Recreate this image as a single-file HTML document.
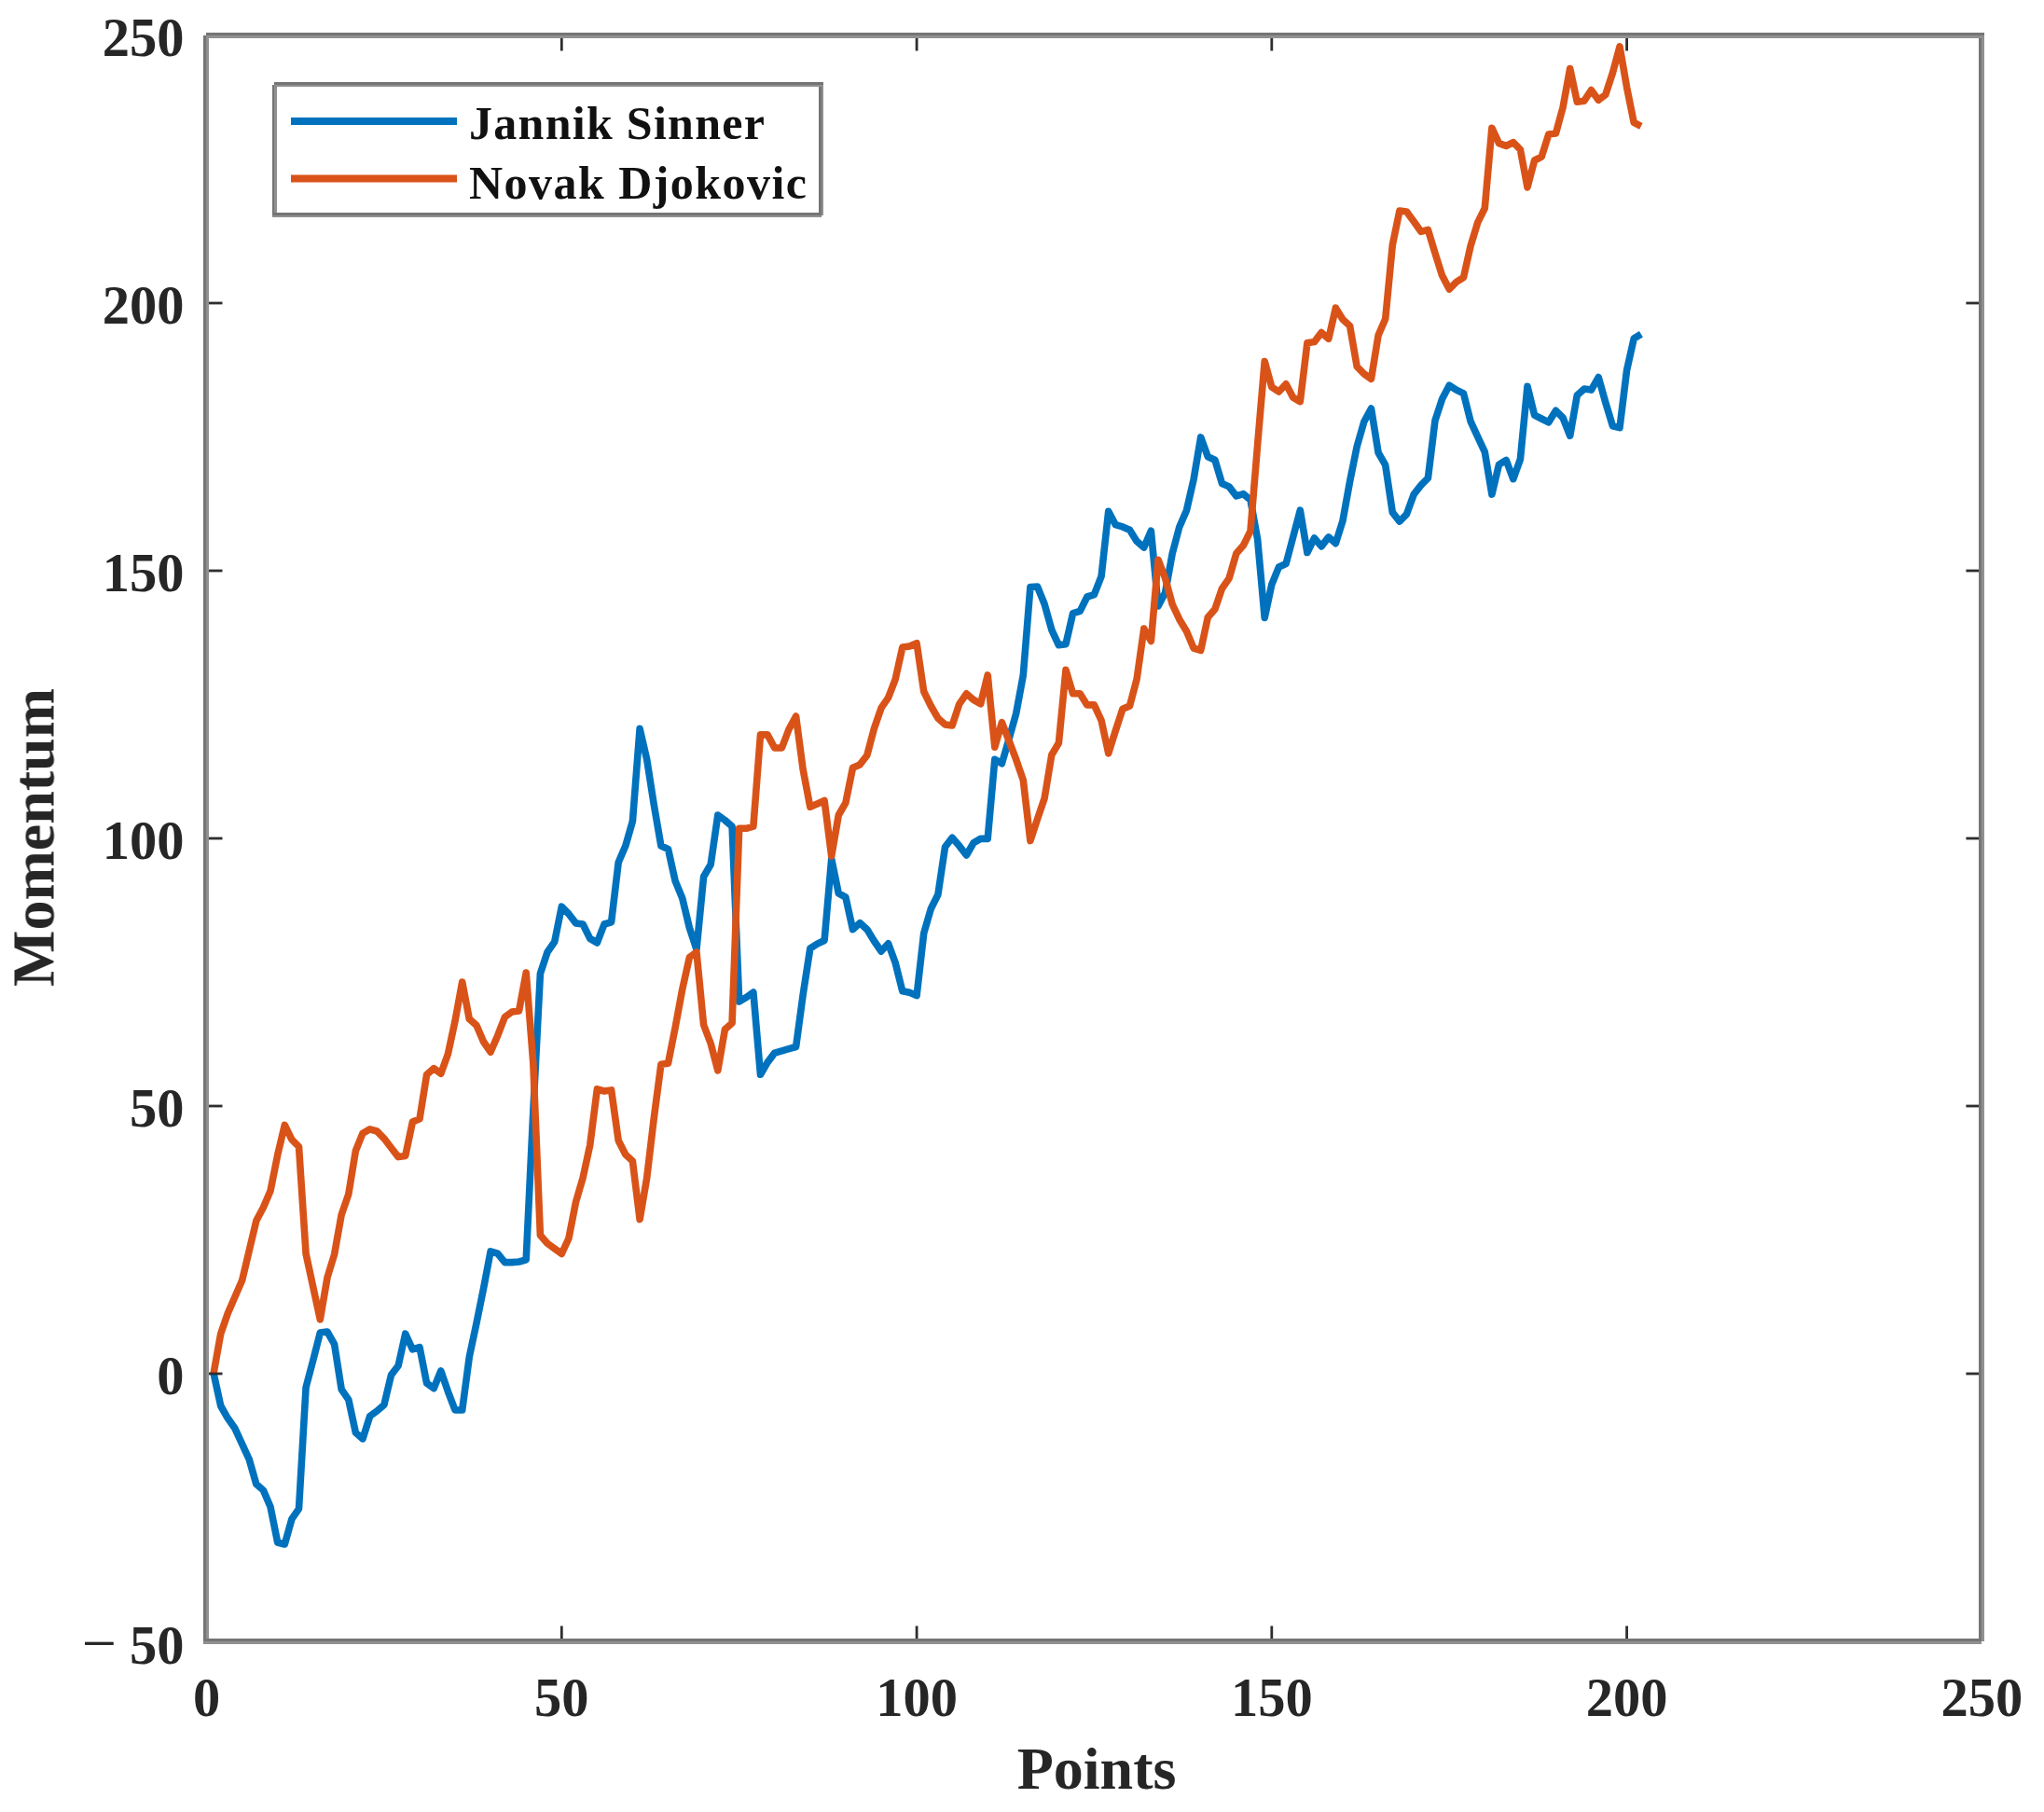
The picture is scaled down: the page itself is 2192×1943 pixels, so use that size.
<!DOCTYPE html>
<html lang="en"><head><meta charset="utf-8"><title>Momentum</title>
<style>
html,body{margin:0;padding:0;background:#fff;}
body{width:2192px;height:1943px;overflow:hidden;}
svg{display:block;}
text{font-family:"Liberation Serif","Times New Roman",serif;font-weight:bold;fill:#262626;}
.tl{font-size:58.5px;}
.al{font-size:64px;}
.lg{font-size:50px;fill:#111;}
</style></head><body>
<svg width="2192" height="1943" viewBox="0 0 2192 1943">
<rect x="0" y="0" width="2192" height="1943" fill="#ffffff"/>
<g style="filter:blur(0.75px)">
<polyline fill="none" stroke="#0072BD" stroke-width="7.6" stroke-linejoin="round" stroke-linecap="butt" points="229.1,1472.6 236.7,1507.5 244.3,1520.8 252.0,1531.8 259.6,1548.3 267.2,1564.9 274.8,1591.4 282.4,1598.0 290.0,1615.7 297.7,1654.0 305.3,1656.0 312.9,1628.9 320.5,1617.9 328.1,1487.6 335.7,1458.9 343.3,1429.1 351.0,1428.0 358.6,1441.3 366.2,1489.8 373.8,1500.9 381.4,1536.2 389.0,1542.8 396.7,1518.5 404.3,1513.0 411.9,1506.4 419.5,1474.4 427.1,1464.5 434.7,1430.2 442.4,1446.8 450.0,1444.6 457.6,1483.2 465.2,1488.7 472.8,1470.0 480.4,1492.1 488.0,1512.0 495.7,1512.0 503.3,1455.0 510.9,1419.2 518.5,1381.7 526.1,1341.9 533.7,1344.2 541.4,1353.6 549.0,1353.6 556.6,1353.0 564.2,1350.8 571.8,1192.0 579.4,1044.0 587.0,1021.0 594.7,1009.9 602.3,972.2 609.9,980.0 617.5,989.9 625.1,991.0 632.7,1006.4 640.4,1010.9 648.0,991.0 655.6,988.8 663.2,924.8 670.8,907.1 678.4,880.6 686.1,781.3 693.7,814.4 701.3,863.0 708.9,907.1 716.5,910.4 724.1,944.6 731.7,963.0 739.4,995.0 747.0,1018.0 754.6,940.0 762.2,927.0 769.8,874.0 777.4,879.5 785.1,886.1 792.7,1074.0 800.3,1069.5 807.9,1064.0 815.5,1152.3 823.1,1139.1 830.7,1129.1 838.4,1126.9 846.0,1124.7 853.6,1122.5 861.2,1066.2 868.8,1017.0 876.4,1012.1 884.1,1008.5 891.7,921.0 899.3,957.9 906.9,962.1 914.5,996.6 922.1,989.7 929.8,996.6 937.4,1009.0 945.0,1020.0 952.6,1011.8 960.2,1032.5 967.8,1062.8 975.4,1064.2 983.1,1067.6 990.7,1000.7 998.3,974.5 1005.9,959.3 1013.5,908.3 1021.1,898.3 1028.8,907.1 1036.4,917.0 1044.0,903.8 1051.6,899.4 1059.2,899.4 1066.8,814.4 1074.4,818.8 1082.1,792.3 1089.7,765.0 1097.3,724.0 1104.9,629.5 1112.5,629.0 1120.1,647.7 1127.8,675.3 1135.4,691.8 1143.0,690.7 1150.6,657.6 1158.2,655.4 1165.8,640.0 1173.4,637.7 1181.1,617.9 1188.7,548.3 1196.3,562.7 1203.9,564.9 1211.5,568.2 1219.1,580.4 1226.8,587.0 1234.4,569.3 1242.0,649.9 1249.6,635.5 1257.2,593.6 1264.8,564.9 1272.5,547.2 1280.1,514.0 1287.7,468.9 1295.3,489.8 1302.9,493.2 1310.5,518.5 1318.1,521.9 1325.8,531.8 1333.4,529.6 1341.0,536.2 1348.6,578.1 1356.2,662.5 1363.8,626.7 1371.5,607.9 1379.1,604.6 1386.7,575.9 1394.3,547.2 1401.9,592.5 1409.5,577.0 1417.1,585.9 1424.8,575.9 1432.4,582.6 1440.0,558.3 1447.6,516.3 1455.2,478.8 1462.8,452.3 1470.5,438.0 1478.1,485.4 1485.7,498.7 1493.3,549.4 1500.9,559.1 1508.5,551.3 1516.2,530.1 1523.8,520.4 1531.4,512.7 1539.0,450.9 1546.6,427.7 1554.2,413.2 1561.8,418.1 1569.5,421.9 1577.1,451.9 1584.7,468.3 1592.3,484.7 1599.9,530.1 1607.5,498.2 1615.2,493.4 1622.8,513.7 1630.4,492.4 1638.0,414.2 1645.6,445.1 1653.2,449.0 1660.8,452.8 1668.5,440.3 1676.1,448.0 1683.7,467.3 1691.3,423.8 1698.9,417.1 1706.5,418.1 1714.2,404.5 1721.8,431.6 1729.4,456.7 1737.0,458.6 1744.6,396.8 1752.2,363.0 1759.9,358.2"/>
<polyline fill="none" stroke="#D95319" stroke-width="7.6" stroke-linejoin="round" stroke-linecap="butt" points="229.1,1472.6 236.7,1430.2 244.3,1408.2 252.0,1390.5 259.6,1373.1 267.2,1341.1 274.8,1309.1 282.4,1294.7 290.0,1277.0 297.7,1238.4 305.3,1206.4 312.9,1221.9 320.5,1229.6 328.1,1344.4 335.7,1379.7 343.3,1414.8 351.0,1370.0 358.6,1345.0 366.2,1302.4 373.8,1280.4 381.4,1234.0 389.0,1215.2 396.7,1210.8 404.3,1213.0 411.9,1220.8 419.5,1230.7 427.1,1240.6 434.7,1239.5 442.4,1203.1 450.0,1199.8 457.6,1152.3 465.2,1145.7 472.8,1151.2 480.4,1130.2 488.0,1094.9 495.7,1053.0 503.3,1092.7 510.9,1099.3 518.5,1117.0 526.1,1128.0 533.7,1110.4 541.4,1090.5 549.0,1085.0 556.6,1083.9 564.2,1043.0 571.8,1140.0 579.4,1324.5 587.0,1333.3 594.7,1338.9 602.3,1344.4 609.9,1328.0 617.5,1289.0 625.1,1263.0 632.7,1228.0 640.4,1167.8 648.0,1170.0 655.6,1168.9 663.2,1223.0 670.8,1238.0 678.4,1245.0 686.1,1307.5 693.7,1263.0 701.3,1198.7 708.9,1141.3 716.5,1140.2 724.1,1102.0 731.7,1061.0 739.4,1026.5 747.0,1021.0 754.6,1099.0 762.2,1119.0 769.8,1147.9 777.4,1103.8 785.1,1097.0 792.7,888.3 800.3,888.3 807.9,886.1 815.5,787.9 823.1,787.9 830.7,802.0 838.4,802.0 846.0,782.0 853.6,768.0 861.2,825.4 868.8,865.2 876.4,861.9 884.1,858.5 891.7,918.0 899.3,874.0 906.9,860.8 914.5,823.2 922.1,819.9 929.8,810.0 937.4,781.3 945.0,759.2 952.6,748.2 960.2,728.3 967.8,694.1 975.4,693.0 983.1,689.7 990.7,741.5 998.3,757.0 1005.9,770.2 1013.5,776.9 1021.1,778.0 1028.8,754.8 1036.4,743.8 1044.0,750.4 1051.6,754.8 1059.2,723.9 1066.8,801.1 1074.4,774.7 1082.1,794.5 1089.7,814.4 1097.3,836.5 1104.9,901.6 1112.5,878.4 1120.1,856.0 1127.8,809.5 1135.4,796.7 1143.0,718.4 1150.6,743.8 1158.2,743.8 1165.8,755.9 1173.4,755.9 1181.1,772.5 1188.7,807.8 1196.3,783.5 1203.9,760.3 1211.5,757.0 1219.1,728.3 1226.8,674.0 1234.4,687.5 1242.0,600.2 1249.6,620.0 1257.2,648.0 1264.8,664.2 1272.5,677.0 1280.1,695.1 1287.7,697.4 1295.3,662.0 1302.9,653.2 1310.5,631.1 1318.1,620.1 1325.8,593.6 1333.4,584.8 1341.0,569.3 1348.6,477.0 1356.2,387.5 1363.8,415.1 1371.5,420.0 1379.1,411.8 1386.7,426.2 1394.3,430.6 1401.9,367.7 1409.5,366.6 1417.1,356.6 1424.8,363.3 1432.4,330.2 1440.0,342.5 1447.6,349.5 1455.2,393.1 1462.8,400.8 1470.5,406.3 1478.1,359.5 1485.7,342.0 1493.3,262.8 1500.9,226.1 1508.5,227.0 1516.2,237.6 1523.8,248.3 1531.4,246.3 1539.0,271.5 1546.6,295.6 1554.2,310.1 1561.8,302.4 1569.5,297.5 1577.1,263.7 1584.7,238.6 1592.3,223.2 1599.9,137.2 1607.5,153.6 1615.2,156.5 1622.8,152.7 1630.4,160.4 1638.0,200.9 1645.6,172.0 1653.2,168.1 1660.8,144.0 1668.5,143.0 1676.1,115.0 1683.7,73.5 1691.3,109.2 1698.9,108.2 1706.5,96.6 1714.2,107.3 1721.8,101.5 1729.4,78.3 1737.0,50.0 1744.6,93.7 1752.2,131.4 1759.9,135.3"/>
<g stroke="#2e2e2e" stroke-width="2.8" fill="none"><line x1="602.3" y1="1760.0" x2="602.3" y2="1743.5"/><line x1="602.3" y1="38.0" x2="602.3" y2="54.5"/><line x1="983.1" y1="1760.0" x2="983.1" y2="1743.5"/><line x1="983.1" y1="38.0" x2="983.1" y2="54.5"/><line x1="1363.8" y1="1760.0" x2="1363.8" y2="1743.5"/><line x1="1363.8" y1="38.0" x2="1363.8" y2="54.5"/><line x1="1744.6" y1="1760.0" x2="1744.6" y2="1743.5"/><line x1="1744.6" y1="38.0" x2="1744.6" y2="54.5"/><line x1="221.5" y1="1473.0" x2="238.5" y2="1473.0"/><line x1="2125.4" y1="1473.0" x2="2108.4" y2="1473.0"/><line x1="221.5" y1="1186.0" x2="238.5" y2="1186.0"/><line x1="2125.4" y1="1186.0" x2="2108.4" y2="1186.0"/><line x1="221.5" y1="899.0" x2="238.5" y2="899.0"/><line x1="2125.4" y1="899.0" x2="2108.4" y2="899.0"/><line x1="221.5" y1="612.0" x2="238.5" y2="612.0"/><line x1="2125.4" y1="612.0" x2="2108.4" y2="612.0"/><line x1="221.5" y1="325.0" x2="238.5" y2="325.0"/><line x1="2125.4" y1="325.0" x2="2108.4" y2="325.0"/></g>
<g shape-rendering="crispEdges"><rect x="218.45" y="37.80" width="2.85" height="1724.95" fill="#757575"/><rect x="221.30" y="37.80" width="2.85" height="1724.95" fill="#909090"/><rect x="2122.30" y="34.95" width="2.85" height="1724.95" fill="#757575"/><rect x="2125.15" y="34.95" width="2.85" height="1724.95" fill="#909090"/><rect x="221.30" y="34.95" width="1906.70" height="2.85" fill="#757575"/><rect x="221.30" y="37.80" width="1906.70" height="2.85" fill="#909090"/><rect x="218.45" y="1757.05" width="1906.70" height="2.85" fill="#757575"/><rect x="218.45" y="1759.90" width="1906.70" height="2.85" fill="#909090"/></g>
<text class="tl" x="221.5" y="1840" text-anchor="middle">0</text><text class="tl" x="602.3" y="1840" text-anchor="middle">50</text><text class="tl" x="983.1" y="1840" text-anchor="middle">100</text><text class="tl" x="1363.8" y="1840" text-anchor="middle">150</text><text class="tl" x="1744.6" y="1840" text-anchor="middle">200</text><text class="tl" x="2125.4" y="1840" text-anchor="middle">250</text><text class="tl" x="197.5" y="1494.5" text-anchor="end">0</text><text class="tl" x="197.5" y="1207.5" text-anchor="end">50</text><text class="tl" x="197.5" y="920.5" text-anchor="end">100</text><text class="tl" x="197.5" y="633.5" text-anchor="end">150</text><text class="tl" x="197.5" y="346.5" text-anchor="end">200</text><text class="tl" x="197.5" y="59.5" text-anchor="end">250</text><text class="tl" x="197.5" y="1783.5" text-anchor="end"><tspan font-weight="normal" font-size="66px">−</tspan><tspan dx="14">50</tspan></text>
<text class="al" x="1176" y="1917.5" text-anchor="middle">Points</text>
<text class="al" transform="translate(57.5,898) rotate(-90)" text-anchor="middle">Momentum</text>
<rect x="294.4" y="90.6" width="586.4" height="140.15" fill="#ffffff"/><g shape-rendering="crispEdges"><rect x="291.85" y="90.60" width="2.55" height="142.70" fill="#757575"/><rect x="294.40" y="90.60" width="2.55" height="142.70" fill="#909090"/><rect x="878.25" y="88.05" width="2.55" height="142.70" fill="#757575"/><rect x="880.80" y="88.05" width="2.55" height="142.70" fill="#909090"/><rect x="294.40" y="88.05" width="588.95" height="2.55" fill="#757575"/><rect x="294.40" y="90.60" width="588.95" height="2.55" fill="#909090"/><rect x="291.85" y="228.20" width="588.95" height="2.55" fill="#757575"/><rect x="291.85" y="230.75" width="588.95" height="2.55" fill="#909090"/></g>
<line x1="312" y1="130" x2="490" y2="130" stroke="#0072BD" stroke-width="8"/><line x1="312" y1="191.4" x2="490" y2="191.4" stroke="#D95319" stroke-width="8"/>
<text class="lg" x="503" y="148.5" textLength="317" lengthAdjust="spacing">Jannik Sinner</text><text class="lg" x="503" y="212.5" textLength="362" lengthAdjust="spacing">Novak Djokovic</text>
</g></svg></body></html>
